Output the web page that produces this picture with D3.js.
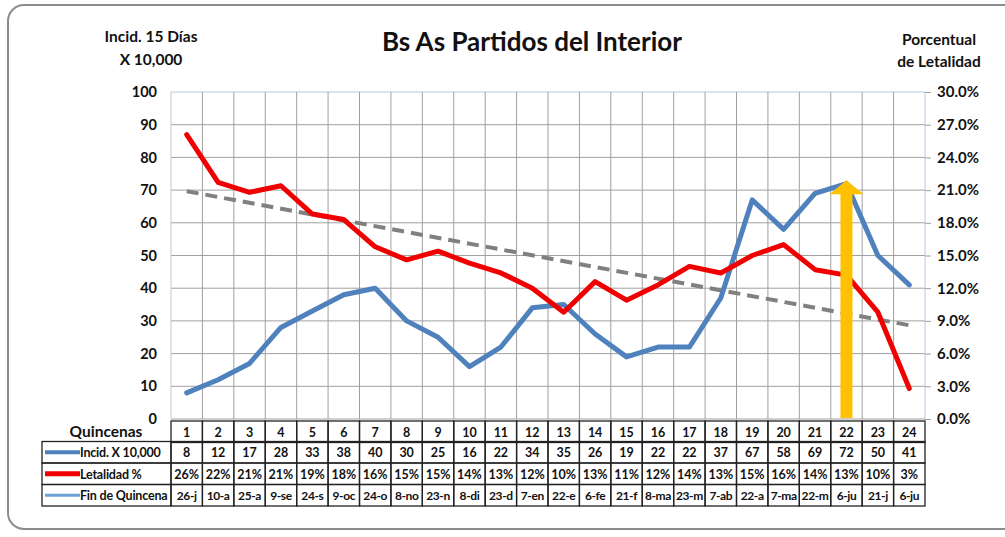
<!DOCTYPE html>
<html>
<head>
<meta charset="utf-8">
<script src="https://cdn.jsdelivr.net/npm/d3@7"></script>
<style>
  body { margin: 0; background: #fff; }
  svg { display: block; font-family: Lato, "Open Sans", sans-serif; }
</style>
</head>
<body>
<div id="chart"></div>
<script>
// quincenas 1..24
const quincenas = d3.range(1, 25);
const incidencia = [8, 12, 17, 28, 33, 38, 40, 30, 25, 16, 22, 34, 35, 26, 19, 22, 22, 37, 67, 58, 69, 72, 50, 41];
const letalidad = [26.1, 21.7, 20.8, 21.4, 18.8, 18.3, 15.8, 14.6, 15.4, 14.3, 13.4, 12.0, 9.8, 12.6, 10.9, 12.3, 14.0, 13.4, 15.0, 16.0, 13.7, 13.2, 9.8, 2.8];
const finQuincena = ["26-j", "10-a", "25-a", "9-se", "24-s", "9-oc", "24-o", "8-no", "23-n", "8-di", "23-d", "7-en", "22-e", "6-fe", "21-f", "8-ma", "23-m", "7-ab", "22-a", "7-ma", "22-m", "6-ju", "21-j", "6-ju"];
// tendencia de letalidad (extremos)
const tendencia = [{ q: 1, v: 20.9 }, { q: 24, v: 8.6 }];
const flecha = { q: 22, top: 73 };
const leftTicks = d3.range(0, 101, 10);
const rightTicks = d3.range(0, 31, 3);

const width = 1005;
const height = 537;
const plot = { left: 171, right: 925, top: 92, bottom: 419 };

const svg = d3.select("#chart").append("svg")
  .attr("width", width)
  .attr("height", height);

// marco
svg.append("rect")
  .attr("x", 8).attr("y", 5)
  .attr("width", 1015).attr("height", 524)
  .attr("rx", 16)
  .attr("fill", "#fff")
  .attr("stroke", "#8c8c8c")
  .attr("stroke-width", 2);

const x = d3.scaleBand().domain(quincenas).range([plot.left, plot.right]);
const cx = (q) => x(q) + x.bandwidth() / 2;
const yL = d3.scaleLinear().domain([0, 100]).range([plot.bottom, plot.top]);
const yR = d3.scaleLinear().domain([0, 30]).range([plot.bottom, plot.top]);

// grilla
const grid = svg.append("g");
grid.selectAll("line.h")
  .data(leftTicks)
  .join("line")
  .attr("x1", plot.left).attr("x2", plot.right)
  .attr("y1", (d) => yL(d)).attr("y2", (d) => yL(d))
  .attr("stroke", (d) => (d === 100 ? "#b8c9dd" : "#a0a0a0"))
  .attr("stroke-width", 1);
grid.selectAll("line.v")
  .data(quincenas.slice(1))
  .join("line")
  .attr("x1", (d) => x(d)).attr("x2", (d) => x(d))
  .attr("y1", plot.top).attr("y2", plot.bottom)
  .attr("stroke", "#a0a0a0")
  .attr("stroke-width", 1);
grid.append("line")
  .attr("x1", plot.left).attr("x2", plot.left)
  .attr("y1", plot.top).attr("y2", plot.bottom)
  .attr("stroke", "#b8c9dd");
grid.append("line")
  .attr("x1", plot.right).attr("x2", plot.right)
  .attr("y1", plot.top).attr("y2", plot.bottom)
  .attr("stroke", "#b8c9dd");

// ejes
const leftAxis = svg.append("g")
  .attr("transform", `translate(${plot.left},0)`)
  .call(d3.axisLeft(yL).tickValues(leftTicks).tickSize(0).tickPadding(14));
leftAxis.select(".domain").remove();
leftAxis.selectAll("text")
  .attr("font-size", 14.5).attr("font-weight", "bold").attr("fill", "#111")
  .attr("font-family", "Lato, sans-serif");

const rightAxis = svg.append("g")
  .attr("transform", `translate(${plot.right},0)`)
  .call(d3.axisRight(yR).tickValues(rightTicks).tickSize(6).tickPadding(6)
    .tickFormat((d) => d3.format(".1f")(d) + "%"));
rightAxis.select(".domain").remove();
rightAxis.selectAll("line").attr("stroke", "#a0a0a0");
rightAxis.selectAll("text")
  .attr("font-size", 15).attr("font-weight", "bold").attr("fill", "#111")
  .attr("font-family", "Lato, sans-serif");

// tendencia
svg.append("path")
  .datum(tendencia)
  .attr("fill", "none")
  .attr("stroke", "#808080")
  .attr("stroke-width", 4)
  .attr("stroke-dasharray", "12,7")
  .attr("d", d3.line().x((d) => cx(d.q)).y((d) => yR(d.v)));

// incidencia
svg.append("path")
  .datum(incidencia)
  .attr("fill", "none")
  .attr("stroke", "#4f81bd")
  .attr("stroke-width", 5)
  .attr("stroke-linejoin", "round")
  .attr("stroke-linecap", "round")
  .attr("d", d3.line().x((d, i) => cx(quincenas[i])).y((d) => yL(d)));

// letalidad
svg.append("path")
  .datum(letalidad)
  .attr("fill", "none")
  .attr("stroke", "#f00000")
  .attr("stroke-width", 5)
  .attr("stroke-linejoin", "round")
  .attr("stroke-linecap", "round")
  .attr("d", d3.line().x((d, i) => cx(quincenas[i])).y((d) => yR(d)));

// flecha
const ax = cx(flecha.q);
const tipY = yL(flecha.top);
const shaft = 12, head = 34, headH = 14;
svg.append("path")
  .attr("fill", "#ffc000")
  .attr("d", [
    `M${ax - shaft / 2},${plot.bottom - 1}`,
    `L${ax - shaft / 2},${tipY + headH}`,
    `L${ax - head / 2},${tipY + headH}`,
    `L${ax},${tipY}`,
    `L${ax + head / 2},${tipY + headH}`,
    `L${ax + shaft / 2},${tipY + headH}`,
    `L${ax + shaft / 2},${plot.bottom - 1}`,
    "Z"
  ].join(""));

// titulos
svg.append("text")
  .attr("x", 532).attr("y", 51)
  .attr("text-anchor", "middle")
  .attr("font-size", 26).attr("font-weight", "bold").attr("fill", "#111")
  .text("Bs As Partidos del Interior");

const leftTitle = svg.append("text")
  .attr("text-anchor", "middle")
  .attr("font-size", 15.5).attr("font-weight", "bold").attr("fill", "#111");
leftTitle.append("tspan").attr("x", 151).attr("y", 42).text("Incid. 15 Días");
leftTitle.append("tspan").attr("x", 151).attr("y", 65).text("X 10,000");

const rightTitle = svg.append("text")
  .attr("text-anchor", "middle")
  .attr("font-size", 15.5).attr("font-weight", "bold").attr("fill", "#111");
rightTitle.append("tspan").attr("x", 939).attr("y", 45).text("Porcentual");
rightTitle.append("tspan").attr("x", 939).attr("y", 67).text("de Letalidad");

// tabla
const rowTop = [421, 441.5, 463, 484.5];
const rowH = 21.5;
const tableLeft = 42;
const table = svg.append("g");

svg.append("text")
  .attr("x", 106).attr("y", 437)
  .attr("text-anchor", "middle")
  .attr("font-size", 15.5).attr("font-weight", "bold").attr("fill", "#111")
  .text("Quincenas");

const rows = [
  { label: "Incid. X 10,000", color: "#4f81bd", w: 4, values: incidencia.map((d) => d) },
  { label: "Letalidad %", color: "#f00000", w: 5, values: letalidad.map((d) => d3.format(".0f")(d) + "%") },
  { label: "Fin de Quincena", color: "#6f9fd4", w: 3, values: finQuincena }
];

// encabezado
table.selectAll("rect.hdr")
  .data(quincenas)
  .join("rect")
  .attr("x", (d) => x(d)).attr("y", rowTop[0])
  .attr("width", x.bandwidth()).attr("height", rowH)
  .attr("fill", "none").attr("stroke", "#222").attr("stroke-width", 1.3);
table.selectAll("text.hdr")
  .data(quincenas)
  .join("text")
  .attr("x", (d) => cx(d)).attr("y", rowTop[0] + 15.5)
  .attr("text-anchor", "middle")
  .attr("font-size", 12.5).attr("font-weight", "bold").attr("fill", "#111")
  .text((d) => d);

rows.forEach((row, r) => {
  const top = rowTop[r + 1];
  table.append("rect")
    .attr("x", tableLeft).attr("y", top)
    .attr("width", plot.left - tableLeft).attr("height", rowH)
    .attr("fill", "none").attr("stroke", "#222").attr("stroke-width", 1.3);
  table.append("line")
    .attr("x1", tableLeft + 3).attr("x2", tableLeft + 38)
    .attr("y1", top + rowH / 2).attr("y2", top + rowH / 2)
    .attr("stroke", row.color).attr("stroke-width", row.w);
  table.append("text")
    .attr("x", tableLeft + 38).attr("y", top + 15.5)
    .attr("font-size", 12.5).attr("font-weight", "bold").attr("fill", "#111")
    .attr("letter-spacing", -0.2)
    .text(row.label);
  table.selectAll(null)
    .data(quincenas)
    .join("rect")
    .attr("x", (d) => x(d)).attr("y", top)
    .attr("width", x.bandwidth()).attr("height", rowH)
    .attr("fill", "none").attr("stroke", "#222").attr("stroke-width", 1.3);
  table.selectAll(null)
    .data(row.values)
    .join("text")
    .attr("x", (d, i) => cx(quincenas[i])).attr("y", top + 15.5)
    .attr("text-anchor", "middle")
    .attr("font-size", r === 2 ? 12 : 12.5).attr("font-weight", "bold").attr("fill", "#111")
    .attr("letter-spacing", r === 2 ? -0.4 : 0)
    .text((d) => d);
});
</script>
</body>
</html>
